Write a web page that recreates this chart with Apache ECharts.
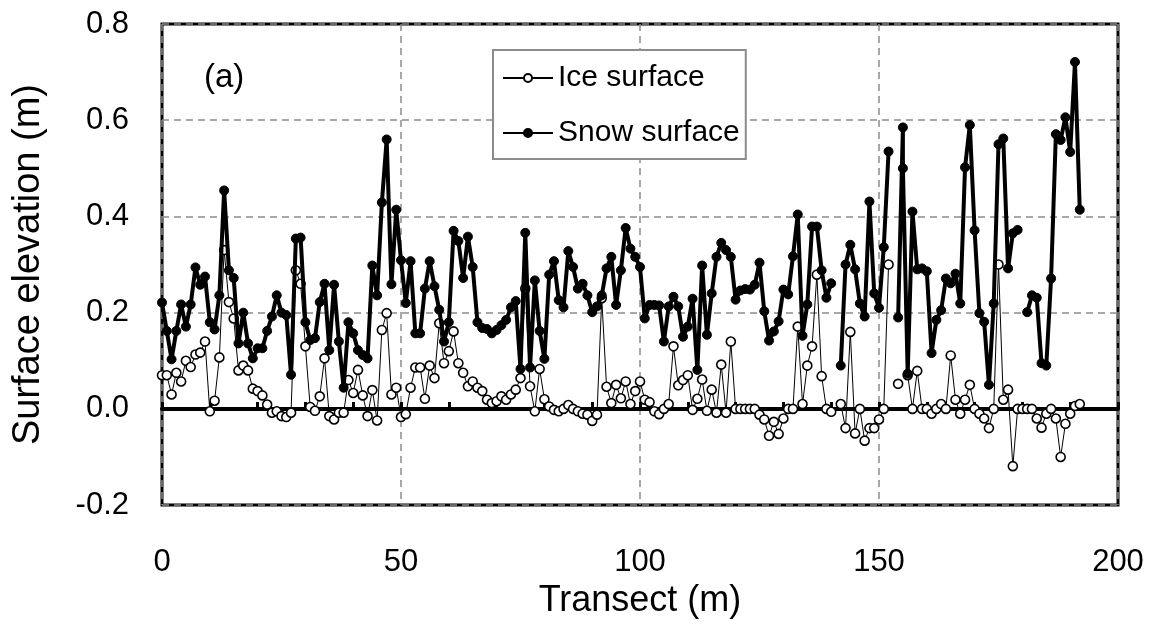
<!DOCTYPE html>
<html>
<head>
<meta charset="utf-8">
<script src="https://cdn.jsdelivr.net/npm/echarts@6/dist/echarts.min.js"></script>
<style>
html,body{margin:0;padding:0;background:#fff;}
#chart{width:1153px;height:624px;}
</style>
</head>
<body>
<div id="chart"></div>
<script>
// Transect positions (m)
const distance = [0,1,2,3,4,5,6,7,8,9,10,11,12,13,14,15,16,17,18,19,20,21,22,23,24,25,26,27,28,29,30,31,32,33,34,35,36,37,38,39,40,41,42,43,44,45,46,47,48,49,50,51,52,53,54,55,56,57,58,59,60,61,62,63,64,65,66,67,68,69,70,71,72,73,74,75,76,77,78,79,80,81,82,83,84,85,86,87,88,89,90,91,92,93,94,95,96,97,98,99,100,101,102,103,104,105,106,107,108,109,110,111,112,113,114,115,116,117,118,119,120,121,122,123,124,125,126,127,128,129,130,131,132,133,134,135,136,137,138,139,140,141,142,143,144,145,146,147,148,149,150,151,152,153,154,155,156,157,158,159,160,161,162,163,164,165,166,167,168,169,170,171,172,173,174,175,176,177,178,179,180,181,182,183,184,185,186,187,188,189,190,191,192];

// Ice surface elevation (m)
const ice = [0.07,0.07,0.03,0.075,0.057,0.10,0.087,0.113,0.117,0.14,
-0.005,0.017,0.107,0.33,0.222,0.188,0.08,0.09,0.08,0.042,
0.037,0.028,0.009,-0.008,-0.005,-0.015,-0.017,-0.008,0.288,0.26,
0.13,0.004,-0.004,0.026,0.105,-0.015,-0.022,-0.008,-0.008,0.06,
0.033,0.081,0.028,-0.015,0.039,-0.024,0.164,0.199,0.03,0.044,
-0.017,-0.011,0.044,0.086,0.086,0.021,0.09,0.064,0.178,0.095,
0.12,0.161,0.095,0.075,0.047,0.057,0.044,0.037,0.019,0.012,
0.016,0.026,0.019,0.03,0.04,0.064,0.25,0.047,-0.005,0.083,
0.02,0.005,-0.002,-0.005,0.0,0.008,0.0,-0.005,-0.01,-0.012,
-0.025,-0.012,0.23,0.046,0.012,0.05,0.022,0.057,0.01,0.037,
0.057,0.019,0.014,-0.005,-0.011,0.0,0.01,0.13,0.049,0.06,
0.07,-0.002,0.021,0.061,-0.004,0.04,-0.008,0.092,-0.008,0.14,
0.0,0.0,0.0,0.0,0.0,-0.012,-0.022,-0.056,-0.027,-0.052,
-0.02,0.0,0.0,0.171,0.01,0.09,0.13,0.279,0.068,0.0,
-0.006,null,0.01,-0.04,0.16,-0.051,0.0,-0.066,-0.04,-0.04,
-0.022,0.0,0.30,null,0.052,null,0.07,0.0,0.079,0.0,
0.0,-0.01,0.0,0.01,0.0,0.111,0.019,-0.01,0.019,0.05,
0.0,-0.01,-0.02,-0.04,0.0,0.30,0.019,0.04,-0.119,0.0,
0.0,0.0,0.0,-0.02,-0.039,-0.01,0.0,-0.02,-0.10,-0.031,
-0.01,0.006,0.01];

// Snow surface elevation (m)
const snow = [0.221,0.162,0.103,0.162,0.217,0.171,0.217,0.294,0.258,0.275,
0.18,0.165,0.236,0.454,0.288,0.272,0.136,0.2,0.136,0.105,
0.126,0.126,0.162,0.192,0.236,0.2,0.195,0.071,0.354,0.356,
0.18,0.143,0.147,0.222,0.26,0.122,0.258,0.14,0.044,0.18,
0.157,0.122,0.112,0.105,0.298,0.236,0.429,0.56,0.259,0.414,
0.309,0.22,0.307,0.157,0.157,0.25,0.307,0.255,0.206,0.14,
0.18,0.37,0.349,0.272,0.358,0.295,0.18,0.168,0.166,0.157,
0.164,0.174,0.185,0.211,0.224,0.083,0.366,0.086,0.267,0.162,
0.104,0.279,0.307,0.226,0.211,0.328,0.295,0.25,0.26,0.236,
0.201,0.213,0.236,0.292,0.316,0.216,0.288,0.376,0.333,0.316,
0.295,0.188,0.216,0.216,0.215,0.14,0.213,0.233,0.213,0.15,
0.171,0.229,0.081,0.298,0.154,0.24,0.316,0.345,0.33,0.316,
0.227,0.246,0.249,0.248,0.258,0.304,0.203,0.142,0.161,0.182,
0.248,0.238,0.317,0.404,0.152,0.217,0.379,0.379,0.288,0.231,
0.261,null,0.09,0.30,0.341,0.29,0.219,0.192,0.431,0.24,
0.21,0.336,0.535,null,0.19,0.585,0.073,0.41,0.29,0.292,
0.286,0.116,0.185,0.205,0.271,0.261,0.281,0.219,0.502,0.59,
0.371,0.199,0.181,0.05,0.219,0.55,0.562,0.292,0.365,0.372,
null,0.201,0.236,0.231,0.095,0.09,0.271,0.571,0.559,0.606,
0.534,0.721,0.414];

// Second reading recorded at the same position
const snowRepeat = [[155, 0.50]];

const yTicks = ['-0.2','0.0','0.2','0.4','0.6','0.8'];

const FONT = 'Liberation Sans, Arial, sans-serif';

function buildPairs(xs, ys, extra) {
  const out = [];
  xs.forEach((x, i) => {
    const v = ys[i];
    out.push([x, v === null ? '-' : v]);
    if (extra) extra.filter(e => e[0] === x).forEach(e => out.push([e[0], e[1]]));
  });
  return out;
}

const chart = echarts.init(document.getElementById('chart'), null, {renderer: 'canvas'});
chart.setOption({
  animation: false,
  backgroundColor: '#ffffff',
  grid: {left: 162, right: 35, top: 24, bottom: 116, show: true,
         borderColor: '#000', borderWidth: 3, backgroundColor: 'transparent'},
  xAxis: [{
    type: 'value', min: 0, max: 200, interval: 50,
    position: 'bottom',
    axisLine: {show: false, onZero: false},
    axisTick: {show: false},
    axisLabel: {color: '#000', fontSize: 31, fontFamily: FONT, margin: 42},
    splitLine: {show: true, lineStyle: {color: '#8c8c8c', type: [7, 5], width: 1.5}},
    name: 'Transect (m)', nameLocation: 'middle', nameGap: 72,
    nameTextStyle: {color: '#000', fontSize: 36, fontFamily: FONT}
  }, {
    type: 'value', min: 0, max: 200, interval: 10,
    position: 'bottom',
    axisLine: {show: true, onZero: true, onZeroAxisIndex: 0, lineStyle: {color: '#000', width: 4}},
    axisTick: {show: true, inside: true, length: 7, lineStyle: {color: '#000', width: 3}},
    axisLabel: {show: false},
    splitLine: {show: false}
  }],
  yAxis: {
    type: 'value', min: -0.2, max: 0.8, interval: 0.2,
    axisLine: {show: false},
    axisTick: {show: false},
    axisLabel: {color: '#000', fontSize: 31, fontFamily: FONT, margin: 33,
      formatter: v => yTicks[Math.round((v + 0.2) / 0.2)]},
    splitLine: {show: true, lineStyle: {color: '#8c8c8c', type: [7, 5], width: 1.5}},
    name: 'Surface elevation (m)', nameLocation: 'middle', nameGap: 114, nameRotate: 90,
    nameTextStyle: {color: '#000', fontSize: 38, fontFamily: FONT}
  },
  legend: {
    left: 493, top: 50, orient: 'vertical',
    backgroundColor: '#fff', borderColor: '#8c8c8c', borderWidth: 2,
    padding: [13, 6, 11, 9], itemGap: 25, itemWidth: 50, itemHeight: 10,
    textStyle: {color: '#000', fontSize: 30, fontFamily: FONT},
    data: ['Ice surface', 'Snow surface']
  },
  graphic: [{
    type: 'text', left: 204, top: 61,
    style: {text: '(a)', fill: '#000', fontSize: 33, fontFamily: FONT}
  }],
  series: [{
    name: 'Ice surface', type: 'line',
    data: buildPairs(distance, ice),
    connectNulls: false,
    symbol: 'circle', symbolSize: 9, showSymbol: true,
    lineStyle: {color: '#000', width: 1},
    itemStyle: {color: '#fff', borderColor: '#000', borderWidth: 1.6},
    z: 3
  }, {
    name: 'Snow surface', type: 'line',
    data: buildPairs(distance, snow, snowRepeat),
    connectNulls: false,
    symbol: 'circle', symbolSize: 9, showSymbol: true,
    lineStyle: {color: '#000', width: 4},
    itemStyle: {color: '#000', borderColor: '#000', borderWidth: 1},
    z: 4
  }]
});
</script>
</body>
</html>
